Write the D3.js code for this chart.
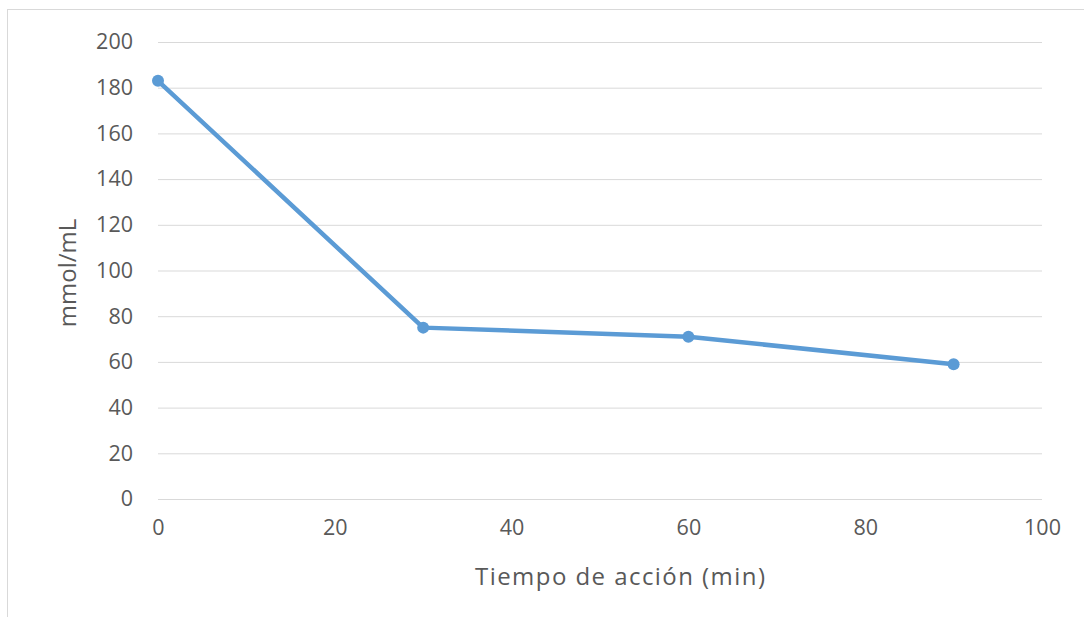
<!DOCTYPE html>
<html><head><meta charset="utf-8">
<script src="https://cdn.jsdelivr.net/npm/d3@7"></script>
<style>body{margin:0;background:#fff;} text{font-family:"Open Sans",sans-serif;}</style>
</head><body>
<svg id="c" width="1084" height="617"></svg>
<script>
const times = [0, 30, 60, 90];
const values = [183, 75, 71, 59];
const xTicks = [0, 20, 40, 60, 80, 100];
const yTicks = [0, 20, 40, 60, 80, 100, 120, 140, 160, 180, 200];
const xTitle = "Tiempo de acción (min)";
const yTitle = "mmol/mL";

const svg = d3.select("#c");
svg.append("rect").attr("x",7.5).attr("y",9.5).attr("width",1100).attr("height",640)
  .attr("fill","#fff").attr("stroke","#d9d9d9").attr("stroke-width",1);

const m = {left:158, right:1042, top:42, bottom:499};
const x = d3.scaleLinear().domain([0,100]).range([m.left,m.right]);
const y = d3.scaleLinear().domain([0,200]).range([m.bottom,m.top]);

const gy = svg.append("g").attr("transform",`translate(${m.left},0)`)
  .call(d3.axisLeft(y).tickValues(yTicks).tickSize(-(m.right-m.left)).tickPadding(25));
gy.select(".domain").remove();
gy.selectAll(".tick line").attr("stroke","#d9d9d9").attr("stroke-width",1);
gy.selectAll(".tick text").attr("fill","#595959").style("font-size","21.5px");

const gx = svg.append("g").attr("transform",`translate(0,${m.bottom})`)
  .call(d3.axisBottom(x).tickValues(xTicks).tickSize(0).tickPadding(21));
gx.select(".domain").remove();
gx.selectAll(".tick text").attr("fill","#595959").style("font-size","21.5px");

const pts = times.map((t,i)=>[t, values[i]]);
svg.append("path").datum(pts)
  .attr("fill","none").attr("stroke","#5b9bd5").attr("stroke-width",4.5)
  .attr("stroke-linejoin","round")
  .attr("d", d3.line().x(d=>x(d[0])).y(d=>y(d[1])));
svg.selectAll("circle.pt").data(pts).enter().append("circle")
  .attr("class","pt").attr("cx",d=>x(d[0])).attr("cy",d=>y(d[1])).attr("r",6)
  .attr("fill","#5b9bd5");

svg.append("text").attr("x",620).attr("y",585).attr("text-anchor","middle")
  .attr("fill","#595959").style("font-size","24px")
  .attr("textLength",290).attr("lengthAdjust","spacing").text(xTitle);
svg.append("text").attr("transform","translate(76,273) rotate(-90)").attr("text-anchor","middle")
  .attr("fill","#595959").style("font-size","24px").text(yTitle);
</script>
</body></html>
